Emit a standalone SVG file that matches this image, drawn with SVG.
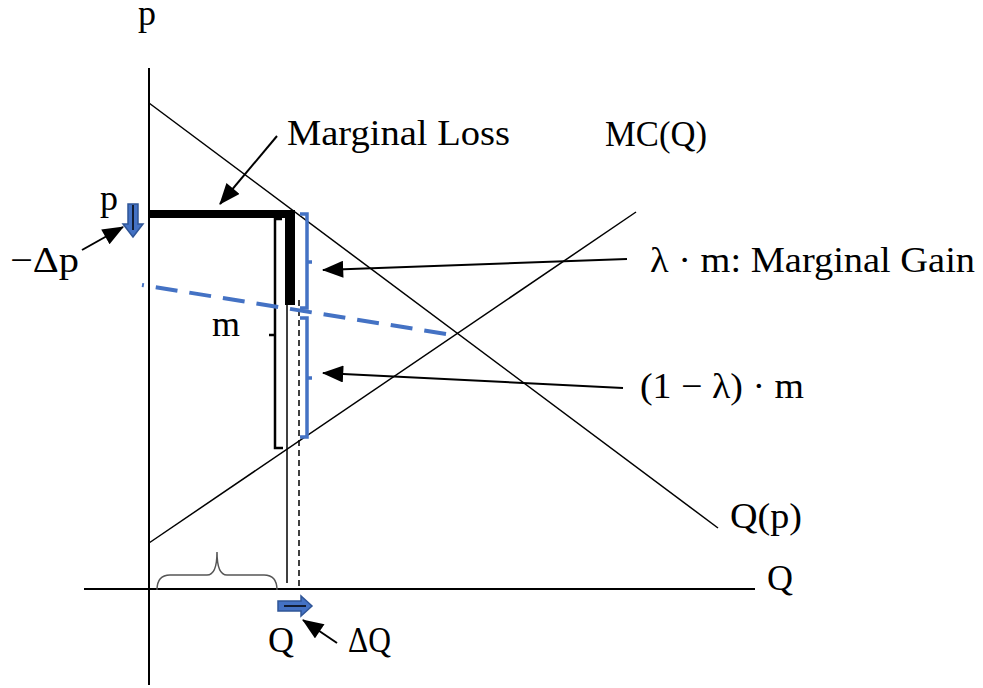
<svg xmlns="http://www.w3.org/2000/svg" width="983" height="688" viewBox="0 0 983 688">
<defs>
<style>
text{font-family:"Liberation Serif","Times New Roman",serif;fill:#000;}
.lbl{font-size:36px;}
.ax{stroke:#000;stroke-width:2;fill:none;}
.thin{stroke:#000;stroke-width:1.5;fill:none;}
.ptr{stroke:#000;stroke-width:2;fill:none;marker-end:url(#ah);}
.blue{stroke:#4472C4;fill:none;}
</style>
<marker id="ah" viewBox="0 0 20 16" refX="19" refY="8" markerWidth="22" markerHeight="17" markerUnits="userSpaceOnUse" orient="auto">
<path d="M0,0 L20,8 L0,16 Z" fill="#000"/>
</marker>
</defs>
<rect width="983" height="688" fill="#fff"/>

<g id="axes">
<line class="ax" x1="149" y1="68" x2="149" y2="685"/>
<line class="ax" x1="84" y1="589" x2="755" y2="589"/>
</g>

<g id="curves">
<line class="thin" x1="149" y1="103" x2="718" y2="528"/>
<line class="thin" x1="149" y1="543" x2="636" y2="212"/>
</g>

<g id="marginal-loss-shape">
<line x1="149" y1="214" x2="295" y2="214" stroke="#000" stroke-width="8"/>
<line x1="290" y1="210" x2="290" y2="305" stroke="#000" stroke-width="10"/>
</g>

<g id="verticals">
<line x1="287" y1="218" x2="287" y2="583" stroke="#000" stroke-width="1.5"/>
<line x1="299" y1="300" x2="299" y2="589" stroke="#000" stroke-width="1.5" stroke-dasharray="6,4"/>
</g>

<g id="m-bracket">
<path d="M282,219 L275,219 L275,448 L283,448 M275,335 L269,335" fill="none" stroke="#000" stroke-width="2.5"/>
</g>

<g id="blue-brackets">
<path class="blue" stroke-width="3.5" d="M300,214 L307,214 L307,308 L300,308 M307,262 L312,262"/>
<path class="blue" stroke-width="3.5" d="M300,318 L307,318 L307,437 L300,437 M307,378 L312,378"/>
</g>

<g id="blue-dashed">
<line x1="446" y1="334" x2="142" y2="285" stroke="#4472C4" stroke-width="4" stroke-dasharray="22,12"/>
</g>

<g id="brace">
<path d="M157,590 Q157,575 170,575 L207,575 Q217,575 217,552 Q217,575 227,575 L264,575 Q277,575 277,590" fill="none" stroke="#555" stroke-width="1.5"/>
</g>

<g id="delta-p-arrow">
<path d="M128,204 L138,204 L138,224 L143,224 L133,237 L123,224 L128,224 Z" fill="#4472C4" stroke="#2F5597" stroke-width="1.5"/>
<line x1="133" y1="205" x2="133" y2="230" stroke="#000" stroke-width="1.5"/>
</g>

<g id="delta-q-arrow">
<path d="M278,601 L301,601 L301,596 L312,606 L301,616 L301,611 L278,611 Z" fill="#4472C4" stroke="#2F5597" stroke-width="1.5"/>
<line x1="284" y1="606" x2="306" y2="606" stroke="#000" stroke-width="1.5"/>
</g>

<g id="connectors">
<line class="ptr" x1="277" y1="136" x2="220" y2="204"/>
<line class="ptr" x1="627" y1="259" x2="323" y2="270"/>
<line class="ptr" x1="623" y1="388" x2="323" y2="373"/>
<line class="ptr" x1="82" y1="250" x2="123" y2="227"/>
<line class="ptr" x1="337" y1="643" x2="303" y2="620"/>
</g>

<g id="labels">
<text class="lbl" x="138" y="25">p</text>
<text class="lbl" x="287" y="145" textLength="223" lengthAdjust="spacingAndGlyphs">Marginal Loss</text>
<text class="lbl" x="605" y="146" font-size="32" textLength="102" lengthAdjust="spacingAndGlyphs">MC(Q)</text>
<text class="lbl" x="100" y="210">p</text>
<text class="lbl" x="10" y="272" textLength="69" lengthAdjust="spacingAndGlyphs">−Δp</text>
<text class="lbl" x="212" y="336">m</text>
<text class="lbl" x="650" y="272" textLength="325" lengthAdjust="spacingAndGlyphs">λ · m: Marginal Gain</text>
<text class="lbl" x="640" y="398" textLength="164" lengthAdjust="spacingAndGlyphs">(1 − λ) · m</text>
<text class="lbl" x="730" y="528" textLength="72" lengthAdjust="spacingAndGlyphs">Q(p)</text>
<text class="lbl" x="767" y="590">Q</text>
<text class="lbl" x="268" y="652">Q</text>
<text class="lbl" x="348" y="652" textLength="43" lengthAdjust="spacingAndGlyphs">ΔQ</text>
</g>
</svg>
